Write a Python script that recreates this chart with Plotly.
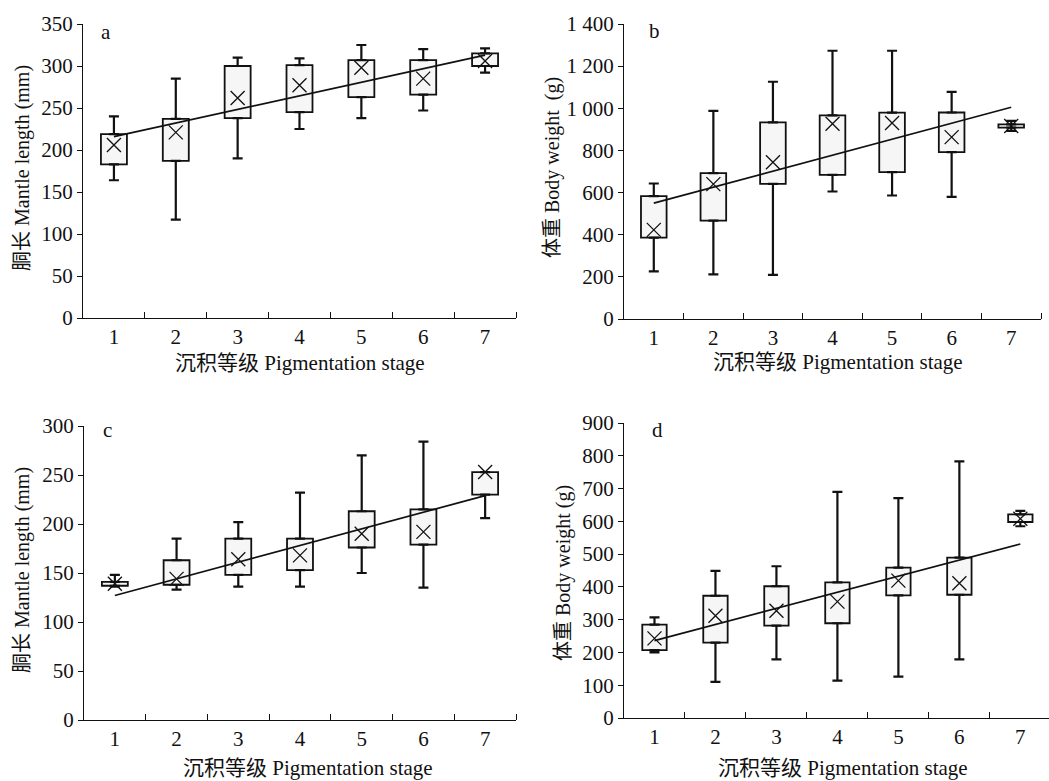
import numpy as np
import plotly.graph_objects as go
from plotly.subplots import make_subplots

stages = [1, 2, 3, 4, 5, 6, 7]
stage_labels = ["1", "2", "3", "4", "5", "6", "7"]

# Panel a: mantle length (mm)
a_upper = [240, 285, 310, 309, 325, 320, 321]
a_q3 = [219, 237, 300, 301, 307, 307, 315]
a_q1 = [183, 187, 238, 245, 263, 266, 300]
a_lower = [164, 117, 190, 225, 238, 247, 292]
a_mean = [206, 221, 262, 277, 298, 285, 306]
a_trend = [216, 313]

# Panel b: body weight (g)
b_upper = [643, 988, 1126, 1273, 1273, 1078, 940]
b_q3 = [583, 692, 933, 966, 979, 980, 924]
b_q1 = [386, 467, 641, 684, 697, 792, 908]
b_lower = [226, 212, 209, 605, 586, 580, 893]
b_mean = [423, 640, 744, 927, 930, 863, 916]
b_trend = [550, 1005]

# Panel c: mantle length (mm)
c_upper = [148, 185, 202, 232, 270, 284, 253]
c_q3 = [141, 163, 185, 185, 213, 215, 253]
c_q1 = [137, 138, 148, 153, 176, 179, 230]
c_lower = [136, 133, 136, 136, 150, 135, 206]
c_mean = [139, 144, 164, 168, 190, 192, 253]
c_trend = [127, 229]

# Panel d: body weight (g)
d_upper = [307, 449, 463, 690, 671, 783, 632]
d_q3 = [285, 373, 402, 414, 459, 489, 621]
d_q1 = [207, 230, 282, 289, 374, 376, 598]
d_lower = [200, 110, 179, 114, 126, 179, 585]
d_mean = [243, 312, 327, 355, 419, 411, 608]
d_trend = [236, 531]

FONT = "Liberation Serif, 'Times New Roman', 'Noto Sans CJK SC', serif"
W, H = 1049, 781

fig = make_subplots(rows=2, cols=2)

panels = [
    (1, 1, a_upper, a_q3, a_q1, a_lower, a_mean, a_trend, 0.42),
    (1, 2, b_upper, b_q3, b_q1, b_lower, b_mean, b_trend, 0.43),
    (2, 1, c_upper, c_q3, c_q1, c_lower, c_mean, c_trend, 0.42),
    (2, 2, d_upper, d_q3, d_q1, d_lower, d_mean, d_trend, 0.40),
]

for (r, c, up, q3, q1, lo, mean, trend, bw) in panels:
    up, q3, q1, lo = map(np.array, (up, q3, q1, lo))
    fig.add_trace(go.Bar(
        x=stages, y=q3 - q1, base=q1, width=bw,
        marker=dict(color="#f6f6f6", line=dict(color="#111111", width=1.8)),
        hoverinfo="skip"), row=r, col=c)
    fig.add_trace(go.Scatter(
        x=stages, y=q3, mode="markers",
        marker=dict(size=1, color="rgba(0,0,0,0)"),
        error_y=dict(type="data", symmetric=False, array=up - q3,
                     arrayminus=[0] * 7, thickness=2.2, width=5, color="#111111"),
        hoverinfo="skip"), row=r, col=c)
    fig.add_trace(go.Scatter(
        x=stages, y=q1, mode="markers",
        marker=dict(size=1, color="rgba(0,0,0,0)"),
        error_y=dict(type="data", symmetric=False, array=[0] * 7,
                     arrayminus=q1 - lo, thickness=2.2, width=5, color="#111111"),
        hoverinfo="skip"), row=r, col=c)
    fig.add_trace(go.Scatter(
        x=[stages[0], stages[-1]], y=trend, mode="lines",
        line=dict(color="#111111", width=1.7), hoverinfo="skip"), row=r, col=c)
    fig.add_trace(go.Scatter(
        x=stages, y=mean, mode="markers",
        marker=dict(symbol="x-thin-open", size=14,
                    line=dict(width=1.3, color="#111111"), color="#111111"),
        hoverinfo="skip"), row=r, col=c)

def px_x(a, b):
    return [a / W, min(b / W, 1.0)]

def px_y(top, bottom):
    return [(H - bottom) / H, (H - top) / H]

xdoms = {1: px_x(83, 516), 2: px_x(624, 1041), 3: px_x(84, 516), 4: px_x(624, 1049)}
ydoms = {1: px_y(24, 318), 2: px_y(24, 319), 3: px_y(426, 720), 4: px_y(423, 718)}
xranges = {1: [0.5, 7.5], 2: [0.5, 7.5], 3: [0.5, 7.5], 4: [0.5, 7.47]}

y_ranges = {1: [0, 350], 2: [0, 1400], 3: [0, 300], 4: [0, 900]}
y_ticks = {
    1: ([0, 50, 100, 150, 200, 250, 300, 350], ["0", "50", "100", "150", "200", "250", "300", "350"]),
    2: ([0, 200, 400, 600, 800, 1000, 1200, 1400], ["0", "200", "400", "600", "800", "1 000", "1 200", "1 400"]),
    3: ([0, 50, 100, 150, 200, 250, 300], ["0", "50", "100", "150", "200", "250", "300"]),
    4: ([0, 100, 200, 300, 400, 500, 600, 700, 800, 900], ["0", "100", "200", "300", "400", "500", "600", "700", "800", "900"]),
}

TICKSIZE = 21

for i in range(1, 5):
    xs = "xaxis" if i == 1 else f"xaxis{i}"
    ys = "yaxis" if i == 1 else f"yaxis{i}"
    fig.layout[xs].update(
        domain=xdoms[i], range=xranges[i], tickvals=stages, ticktext=stage_labels,
        ticks="", ticklen=0, showline=True, linecolor="#111111", linewidth=1.3,
        showgrid=False, zeroline=False, ticklabelstandoff=0, automargin=False,
        tickfont=dict(family=FONT, size=TICKSIZE, color="#111111"),
        minor=dict(tickvals=[1.5, 2.5, 3.5, 4.5, 5.5, 6.5, 7.5], ticks="inside",
                   ticklen=6, tickwidth=1.3, tickcolor="#111111", showgrid=False),
    )
    fig.layout[ys].update(
        domain=ydoms[i], range=y_ranges[i], tickvals=y_ticks[i][0], ticktext=y_ticks[i][1],
        ticks="outside", ticklen=5, tickwidth=1.3, tickcolor="#111111",
        showline=True, linecolor="#111111", linewidth=1.3,
        showgrid=False, zeroline=False, automargin=False,
        tickfont=dict(family=FONT, size=TICKSIZE, color="#111111"),
    )

def ann(text, x, y, angle=0, size=21):
    return dict(text=text, x=x / W, y=1 - y / H, xref="paper", yref="paper",
                showarrow=False, textangle=angle, xanchor="center", yanchor="middle",
                font=dict(family=FONT, size=size, color="#111111"))

annotations = [
    ann("a", 106, 32, size=21), ann("b", 654, 31, size=21),
    ann("c", 107, 430, size=21), ann("d", 657, 430, size=21),
    ann("沉积等级 Pigmentation stage", 300, 363),
    ann("沉积等级 Pigmentation stage", 838, 362),
    ann("沉积等级 Pigmentation stage", 308, 768),
    ann("沉积等级 Pigmentation stage", 843, 768),
    ann("胴长 Mantle length (mm)", 22, 168, angle=-90, size=20),
    ann("体重 Body weight  (g)", 552, 167, angle=-90, size=20),
    ann("胴长 Mantle length (mm)", 22, 570, angle=-90, size=20),
    ann("体重 Body weight (g)", 563, 573, angle=-90, size=20),
]

fig.update_layout(
    width=W, height=H, margin=dict(l=0, r=0, t=0, b=0, autoexpand=False),
    paper_bgcolor="white", plot_bgcolor="white",
    showlegend=False, barmode="overlay",
    font=dict(family=FONT, size=TICKSIZE, color="#111111"),
    annotations=annotations,
)

fig.write_html("out.html", config={"displayModeBar": False},
               post_script="document.body.style.margin='0';document.body.style.overflow='hidden';")
